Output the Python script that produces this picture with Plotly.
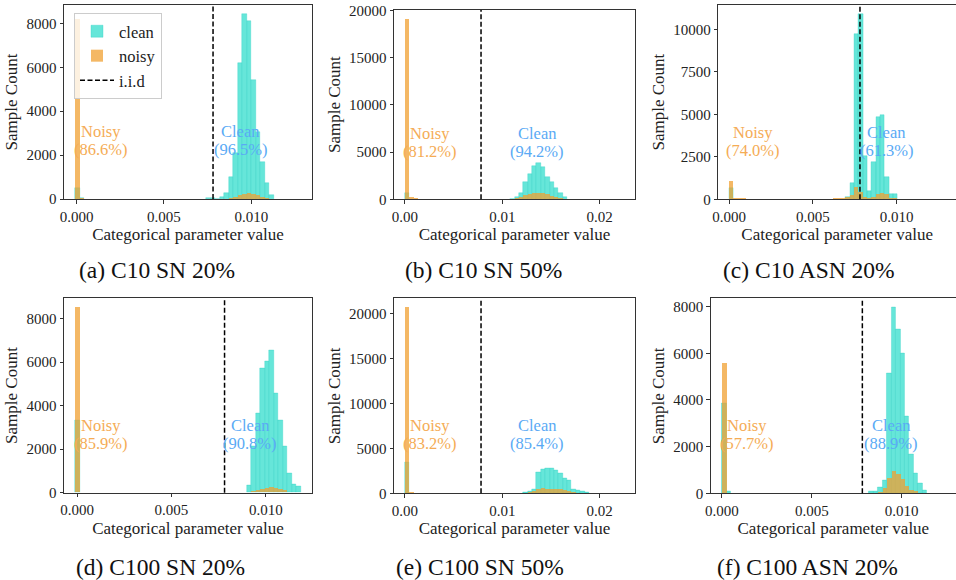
import plotly.graph_objects as go

IID_VALUE = 1 / 128
N_BINS = 50

# ---------------- data ----------------
# (a) C10 SN 20%
A_BIN_START = -0.00007
A_BIN_WIDTH = 0.000258
A_CLEAN_BINS = [0, 1, 29, 30, 31, 32, 33, 34, 35, 36, 37, 38, 39, 40, 41, 42, 43]
A_CLEAN_COUNTS = [490, 30, 30, 40, 20, 100, 290, 1010, 2080, 6180, 8420, 8120, 5420, 3065, 1670, 715, 180]
A_NOISY_BINS = [0, 1, 2, 34, 35, 36, 37, 38, 39, 40, 41, 42]
A_NOISY_COUNTS = [8225, 50, 15, 30, 80, 180, 250, 265, 240, 170, 90, 40]

# (b) C10 SN 50%
B_BIN_START = 0.0
B_BIN_WIDTH = 0.00045
B_CLEAN_BINS = [0, 24, 25, 26, 27, 28, 29, 30, 31, 32, 33, 34, 35, 36]
B_CLEAN_COUNTS = [700, 80, 260, 680, 1800, 2650, 3550, 3820, 3420, 2400, 1850, 1250, 660, 210]
B_NOISY_BINS = [0, 1, 2, 25, 26, 27, 28, 29, 30, 31, 32, 33, 34, 35, 36]
B_NOISY_COUNTS = [19090, 250, 100, 100, 250, 450, 600, 680, 700, 650, 550, 400, 250, 120, 40]

# (c) C10 ASN 20%
C_BIN_START = 0.0
C_BIN_WIDTH = 0.000258
C_CLEAN_BINS = [0, 27, 28, 29, 30, 31, 32, 33, 34, 35, 36, 37, 38]
C_CLEAN_COUNTS = [650, 150, 976, 9760, 10900, 2565, 490, 2210, 4820, 4960, 1330, 300, 300]
C_NOISY_BINS = [0, 1, 2, 3, 24, 25, 26, 27, 28, 29, 30, 31, 32, 33, 34, 35, 36, 37, 38]
C_NOISY_COUNTS = [1076, 60, 60, 50, 50, 60, 70, 150, 250, 700, 450, 150, 80, 150, 300, 390, 300, 100, 50]

# (d) C100 SN 20%
D_BIN_START = -0.0001
D_BIN_WIDTH = 0.000239
D_CLEAN_BINS = [0, 38, 39, 40, 41, 42, 43, 44, 45, 46, 47, 48, 49]
D_CLEAN_COUNTS = [3310, 355, 2120, 3660, 5700, 6050, 6540, 4550, 3350, 2150, 890, 385, 280]
D_NOISY_BINS = [0, 39, 40, 41, 42, 43, 44, 45, 46, 47]
D_NOISY_COUNTS = [8510, 60, 130, 170, 200, 230, 200, 150, 90, 30]

# (e) C100 SN 50%
E_BIN_START = 0.0
E_BIN_WIDTH = 0.00045
E_CLEAN_BINS = [0, 27, 28, 29, 30, 31, 32, 33, 34, 35, 36, 37, 38, 39, 40, 41]
E_CLEAN_COUNTS = [3460, 100, 200, 480, 2300, 2670, 2790, 2790, 2530, 2230, 1670, 1480, 440, 370, 260, 150]
E_NOISY_BINS = [0, 1, 28, 29, 30, 31, 32, 33, 34, 35, 36, 37, 38, 39]
E_NOISY_COUNTS = [20630, 100, 80, 200, 400, 560, 500, 450, 430, 400, 350, 250, 100, 40]

# (f) C100 ASN 20%
F_BIN_START = 0.0
F_BIN_WIDTH = 0.000248
F_CLEAN_BINS = [0, 1, 33, 34, 35, 36, 37, 38, 39, 40, 41, 42, 43, 44, 45]
F_CLEAN_COUNTS = [3870, 70, 70, 70, 250, 550, 5130, 7960, 7050, 6020, 3320, 1690, 860, 430, 140]
F_NOISY_BINS = [0, 35, 36, 37, 38, 39, 40, 41, 42, 43]
F_NOISY_COUNTS = [5560, 60, 200, 650, 960, 800, 600, 300, 150, 70]

CAPTIONS = ["(a) C10 SN 20%", "(b) C10 SN 50%", "(c) C10 ASN 20%",
            "(d) C100 SN 20%", "(e) C100 SN 50%", "(f) C100 ASN 20%"]
NOISY_PCT = ["86.6%", "81.2%", "74.0%", "85.9%", "83.2%", "57.7%"]
CLEAN_PCT = ["96.5%", "94.2%", "61.3%", "90.8%", "85.4%", "88.9%"]
NOISY_LABEL_X = [0.00143, 0.00256, 0.00145, 0.00126, 0.00256, 0.00141]
CLEAN_LABEL_X = [0.00941, 0.01357, 0.00940, 0.00917, 0.01357, 0.00941]
X_TICK_STEP = [0.005, 0.01, 0.005, 0.005, 0.01, 0.005]
X_TICK_FMT = [".3f", ".2f", ".3f", ".3f", ".2f", ".3f"]
Y_TICK_STEP = [2000, 5000, 2500, 2000, 5000, 2000]

# ---------------- styling / layout ----------------
W, H = 956, 580
FONT = "Liberation Serif"
CLEAN_FILL = "rgba(64,224,208,0.8)"
CLEAN_EDGE = "rgba(50,210,195,0.7)"
NOISY_FILL = "rgba(240,160,50,0.75)"
NOISY_TEXT = "#F5AC55"
CLEAN_TEXT = "#5AAAF5"

# axis boxes in pixels (left, right, top, bottom)
BOXES = [(64, 312, 5, 199), (394, 635, 10, 199.3), (718.3, 956, 5, 199.3),
         (64, 312, 298.3, 492.7), (394, 635, 298.3, 493.3), (710.7, 956, 298.3, 493.3)]
CAPTION_POS = [(157, 270), (483, 270), (809, 270), (160, 567), (480, 567), (807, 567)]

panels = [
    (A_BIN_START, A_BIN_WIDTH, A_CLEAN_BINS, A_CLEAN_COUNTS, A_NOISY_BINS, A_NOISY_COUNTS),
    (B_BIN_START, B_BIN_WIDTH, B_CLEAN_BINS, B_CLEAN_COUNTS, B_NOISY_BINS, B_NOISY_COUNTS),
    (C_BIN_START, C_BIN_WIDTH, C_CLEAN_BINS, C_CLEAN_COUNTS, C_NOISY_BINS, C_NOISY_COUNTS),
    (D_BIN_START, D_BIN_WIDTH, D_CLEAN_BINS, D_CLEAN_COUNTS, D_NOISY_BINS, D_NOISY_COUNTS),
    (E_BIN_START, E_BIN_WIDTH, E_CLEAN_BINS, E_CLEAN_COUNTS, E_NOISY_BINS, E_NOISY_COUNTS),
    (F_BIN_START, F_BIN_WIDTH, F_CLEAN_BINS, F_CLEAN_COUNTS, F_NOISY_BINS, F_NOISY_COUNTS),
]

fig = go.Figure()
layout = dict(
    width=W, height=H, margin=dict(l=0, r=0, t=0, b=0),
    paper_bgcolor="white", plot_bgcolor="white",
    barmode="overlay", bargap=0, showlegend=True,
    font=dict(family=FONT, size=15, color="#222"),
    legend=dict(x=74 / W, y=1 - 13 / H, xanchor="left", yanchor="top",
                bgcolor="rgba(255,255,255,0.8)", bordercolor="#cccccc", borderwidth=1,
                font=dict(family=FONT, size=16.5, color="#222"), itemwidth=34,
                tracegroupgap=0),
)
annotations = []
shapes = []

for i, (start, width, cb, cc, nb, nc) in enumerate(panels):
    n = i + 1
    xa = "x" if n == 1 else f"x{n}"
    ya = "y" if n == 1 else f"y{n}"
    cx = [start + (k + 0.5) * width for k in cb]
    nx = [start + (k + 0.5) * width for k in nb]
    first = (i == 0)
    fig.add_trace(go.Bar(x=cx, y=cc, width=width, name="clean", xaxis=xa, yaxis=ya,
                         marker=dict(color=CLEAN_FILL, line=dict(color=CLEAN_EDGE, width=0.5)),
                         showlegend=first, legendgroup="clean", hoverinfo="skip"))
    fig.add_trace(go.Bar(x=nx, y=nc, width=width, name="noisy", xaxis=xa, yaxis=ya,
                         marker=dict(color=NOISY_FILL, line=dict(width=0)),
                         showlegend=first, legendgroup="noisy", hoverinfo="skip"))
    if first:
        fig.add_trace(go.Scatter(x=[None], y=[None], mode="lines", name="i.i.d",
                                 xaxis=xa, yaxis=ya,
                                 line=dict(color="black", width=1.5, dash="5px,2.5px"),
                                 legendgroup="iid"))
    shapes.append(dict(type="line", xref=xa, yref=f"{ya} domain", x0=IID_VALUE, x1=IID_VALUE,
                       y0=0, y1=1, line=dict(color="black", width=1.5, dash="5px,2.5px")))

    lo = start
    hi = start + N_BINS * width
    pad = 0.05 * (hi - lo)
    ymax = 1.05 * max(max(cc), max(nc))
    l, r, t, b = BOXES[i]
    axname_x = "xaxis" if n == 1 else f"xaxis{n}"
    axname_y = "yaxis" if n == 1 else f"yaxis{n}"
    common = dict(showline=True, mirror=True, linecolor="#333", linewidth=1,
                  ticks="outside", ticklen=3.5, tickwidth=0.8, tickcolor="#333",
                  showgrid=False, zeroline=False, automargin=False,
                  tickfont=dict(family=FONT, size=15, color="#222"))
    layout[axname_x] = dict(common, domain=[l / W, r / W], anchor=ya,
                            range=[lo - pad, hi + pad], tick0=0, dtick=X_TICK_STEP[i],
                            tickformat=X_TICK_FMT[i],
                            title=dict(text="Categorical parameter value", standoff=4,
                                       font=dict(family=FONT, size=17, color="#222")))
    layout[axname_y] = dict(common, domain=[1 - b / H, 1 - t / H], anchor=xa,
                            range=[0, ymax], tick0=0, dtick=Y_TICK_STEP[i],
                            tickformat="d",
                            title=dict(text="Sample Count", standoff=4,
                                       font=dict(family=FONT, size=17, color="#222")))
    for txt, xv, col in (("Noisy", NOISY_LABEL_X[i], NOISY_TEXT),
                         (f"({NOISY_PCT[i]})", NOISY_LABEL_X[i], NOISY_TEXT),
                         ("Clean", CLEAN_LABEL_X[i], CLEAN_TEXT),
                         (f"({CLEAN_PCT[i]})", CLEAN_LABEL_X[i], CLEAN_TEXT)):
        shift = 9 if txt[0] != "(" else -9
        annotations.append(dict(text=txt, x=xv, y=0.3, xref=xa, yref=f"{ya} domain",
                                showarrow=False, xanchor="center", yanchor="middle",
                                yshift=shift, font=dict(family=FONT, size=16.5, color=col)))
    cxp, cyp = CAPTION_POS[i]
    annotations.append(dict(text=CAPTIONS[i], x=cxp / W, y=1 - cyp / H, xref="paper", yref="paper",
                            showarrow=False, xanchor="center", yanchor="middle",
                            font=dict(family=FONT, size=23.5, color="#111")))

layout["annotations"] = annotations
layout["shapes"] = shapes
fig.update_layout(**layout)
fig.write_html("out.html")
